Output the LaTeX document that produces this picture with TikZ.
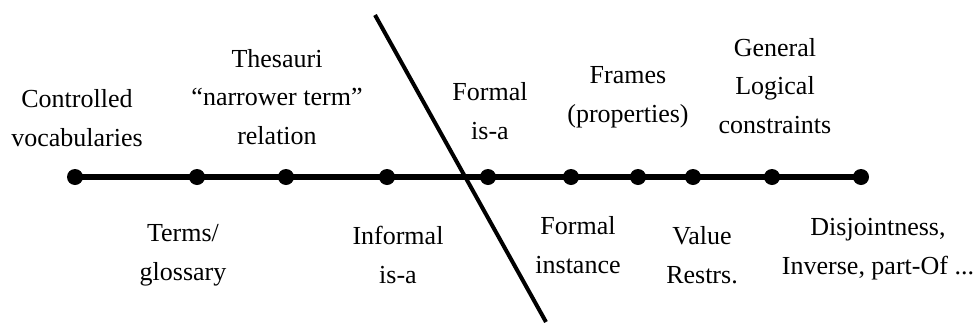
\documentclass[tikz,border=0pt]{standalone}
\usepackage{fontspec}
\setmainfont{Liberation Serif}
\usetikzlibrary{backgrounds}
\begin{document}
\begin{tikzpicture}[
    x=0.75pt, y=-0.75pt,
    dot/.style={circle, fill=black, inner sep=0pt, minimum size=12pt},
    lbl/.style={align=center, inner sep=0pt, font=\fontsize{19.5}{29}\selectfont},
    axis/.style={draw, line width=4pt},
    cut/.style={draw, line width=3pt}
]
\useasboundingbox (0,0) rectangle (975,329);
% points on the spectrum
\node[dot] (ctrl) at (75,177) {};
\node[dot] (terms) at (197,177) {};
\node[dot] (thes) at (286,177) {};
\node[dot] (infisa) at (387,177) {};
\node[dot] (fisa) at (488,177) {};
\node[dot] (finst) at (571,177) {};
\node[dot] (frames) at (638,177) {};
\node[dot] (value) at (693,177) {};
\node[dot] (general) at (772,177) {};
\node[dot] (disj) at (861,177) {};
\begin{scope}[on background layer]
    \draw[axis] (ctrl.center) -- (disj.center);
\end{scope}
% the dividing stroke
\coordinate (cuttop) at (375,15);
\coordinate (cutbot) at (546,322);
\draw[cut] (cuttop) -- (cutbot);
% labels above
\node[lbl] (ctrllbl) at (77,118) {Controlled\\vocabularies};
\node[lbl] (theslbl) at (277,97) {Thesauri\\“narrower term”\\relation};
\node[lbl] (fisalbl) at (490,111) {Formal\\is-a};
\node[lbl] (frameslbl) at (628,97) {Frames\\(properties)};
\node[lbl] (generallbl) at (775,86) {General\\Logical\\constraints};
% labels below
\node[lbl] (termslbl) at (183,255) {Terms/\\glossary};
\node[lbl] (infisalbl) at (398,255) {Informal\\is-a};
\node[lbl] (finstlbl) at (578,245) {Formal\\instance};
\node[lbl] (valuelbl) at (702,255) {Value\\Restrs.};
\node[lbl] (disjlbl) at (878,249) {Disjointness,\\Inverse, part-Of ...};
\end{tikzpicture}
\end{document}
